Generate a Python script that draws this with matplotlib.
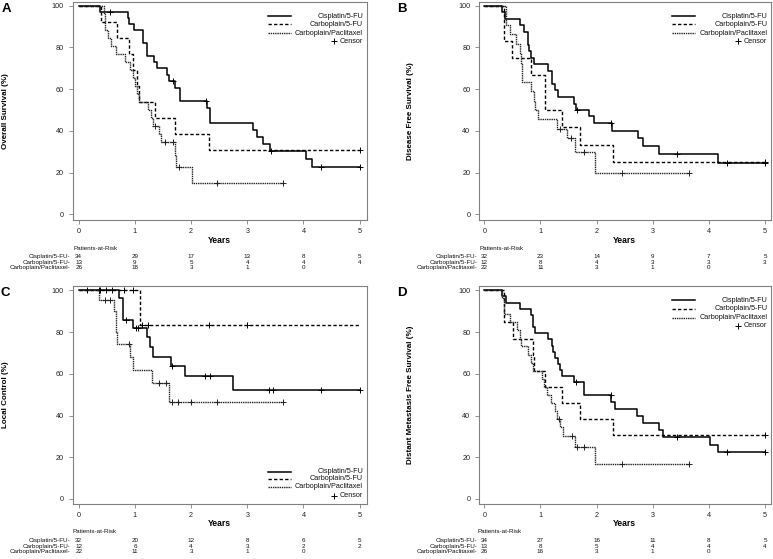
import matplotlib
matplotlib.use('Agg')
import matplotlib.pyplot as plt
import numpy as np
from matplotlib.transforms import blended_transform_factory

plt.rcParams['font.family'] = ['Liberation Sans', 'DejaVu Sans']

# ---------------- data ----------------
groups = ['Cisplatin/5-FU', 'Carboplain/5-FU', 'Carboplain/Paclitaxel']
risk_years = [0, 1, 2, 3, 4, 5]

# Panel A: Overall Survival
A_cis_t = [0, 0.37, 0.87, 0.90, 0.99, 1.15, 1.21, 1.34, 1.40, 1.57, 1.61, 1.71, 1.81, 2.28, 2.33, 3.11, 3.18, 3.28, 3.40, 4.04, 4.16]
A_cis_s = [100, 97.1, 94.1, 91.0, 88.2, 82.0, 76.0, 73.2, 70.0, 66.8, 63.9, 60.4, 54.3, 50.8, 44.0, 40.5, 37.2, 33.9, 30.5, 26.5, 22.8]
A_cis_c = [0.56, 1.67, 2.26, 3.43, 4.31, 5.0]
A_c5_t = [0, 0.40, 0.68, 0.90, 0.96, 1.04, 1.08, 1.36, 1.71, 2.31]
A_c5_s = [100, 92.3, 84.6, 76.9, 69.2, 61.5, 53.8, 46.2, 38.5, 30.8]
A_c5_c = [5.0]
A_cp_t = [0, 0.45, 0.47, 0.53, 0.57, 0.66, 0.82, 0.91, 0.97, 1.01, 1.04, 1.07, 1.24, 1.28, 1.32, 1.43, 1.47, 1.71, 1.74, 2.02]
A_cp_s = [100, 96.2, 88.5, 84.6, 80.8, 76.9, 73.1, 69.2, 65.4, 61.5, 57.7, 53.8, 50.0, 46.2, 42.3, 38.5, 34.6, 28.6, 22.5, 15.0]
A_cp_c = [1.35, 1.54, 1.67, 1.78, 2.46, 3.64]
A_risk = [[34, 29, 17, 13, 8, 5], [13, 9, 5, 4, 4, 4], [26, 18, 3, 1, 0]]

# Panel B: Disease Free Survival
B_cis_t = [0, 0.32, 0.37, 0.64, 0.71, 0.77, 0.80, 0.84, 0.89, 1.14, 1.20, 1.26, 1.32, 1.59, 1.63, 1.86, 1.96, 2.27, 2.74, 2.83, 3.12, 4.16]
B_cis_s = [100, 96.9, 93.8, 90.6, 87.5, 81.3, 78.1, 75.0, 71.9, 68.8, 62.5, 59.4, 56.3, 53.1, 50.0, 46.9, 43.8, 39.7, 36.4, 32.5, 28.9, 24.8]
B_cis_c = [1.65, 2.26, 3.44, 4.32, 5.0]
B_c5_t = [0, 0.36, 0.50, 0.84, 1.09, 1.38, 1.70, 2.29]
B_c5_s = [100, 83.3, 75.0, 66.7, 50.0, 41.7, 33.3, 25.0]
B_c5_c = [5.0]
B_cp_t = [0, 0.38, 0.46, 0.57, 0.64, 0.66, 0.68, 0.84, 0.88, 0.91, 0.96, 1.30, 1.47, 1.62, 1.98]
B_cp_s = [100, 90.9, 86.4, 81.8, 77.3, 72.7, 63.6, 59.1, 54.5, 50.0, 45.5, 40.9, 36.4, 29.8, 20.0]
B_cp_c = [1.34, 1.54, 1.78, 2.45, 3.64]
B_risk = [[32, 23, 14, 9, 7, 5], [12, 8, 4, 3, 3, 3], [22, 11, 3, 1, 0]]

# Panel C: Local Control
C_cis_t = [0, 0.72, 0.79, 0.96, 1.21, 1.27, 1.32, 1.64, 1.90, 2.74]
C_cis_s = [100, 96.2, 85.8, 81.8, 77.5, 72.8, 68.1, 63.5, 58.7, 52.1]
C_cis_c = [0.15, 0.36, 0.38, 0.49, 0.84, 1.02, 1.06, 1.66, 2.25, 2.33, 3.39, 3.45, 4.31, 5.0]
C_c5_t = [0, 1.09]
C_c5_s = [100, 83.3]
C_c5_c = [0.60, 0.80, 0.96, 1.13, 1.24, 2.31, 2.99]
C_cp_t = [0, 0.36, 0.63, 0.66, 0.68, 0.92, 0.97, 1.30, 1.61]
C_cp_s = [100, 95.5, 90.0, 80.0, 74.3, 68.1, 61.9, 55.7, 46.4]
C_cp_c = [0.47, 0.56, 0.90, 1.42, 1.55, 1.66, 1.77, 1.99, 2.46, 3.64]
C_risk = [[32, 20, 12, 8, 6, 5], [12, 6, 4, 3, 2, 2], [22, 11, 3, 1, 0]]

# Panel D: Distant Metastasis Free Survival
D_cis_t = [0, 0.32, 0.38, 0.64, 0.84, 0.87, 0.91, 1.14, 1.20, 1.23, 1.26, 1.31, 1.35, 1.38, 1.59, 1.78, 2.26, 2.33, 2.72, 2.83, 3.12, 3.18, 4.02, 4.16]
D_cis_s = [100, 97.1, 94.1, 91.2, 88.2, 82.4, 79.4, 76.5, 73.5, 70.6, 67.6, 64.7, 61.8, 58.8, 55.9, 49.8, 46.3, 43.0, 39.7, 36.4, 33.1, 29.8, 26.0, 22.3]
D_cis_c = [1.64, 2.25, 3.44, 4.32, 5.0]
D_c5_t = [0, 0.36, 0.52, 0.86, 0.89, 1.08, 1.38, 1.71, 2.29]
D_c5_s = [100, 84.6, 76.9, 69.2, 61.5, 53.8, 46.2, 38.5, 30.8]
D_c5_c = [5.0]
D_cp_t = [0, 0.31, 0.36, 0.46, 0.58, 0.64, 0.66, 0.78, 0.83, 0.87, 1.02, 1.06, 1.12, 1.18, 1.26, 1.30, 1.35, 1.41, 1.62, 1.98]
D_cp_s = [100, 96.2, 88.5, 84.6, 80.8, 76.9, 73.1, 69.2, 65.4, 61.5, 57.7, 53.8, 50.0, 46.2, 42.3, 38.5, 34.6, 30.0, 25.0, 16.7]
D_cp_c = [1.33, 1.56, 1.66, 1.78, 2.45, 3.64]
D_risk = [[34, 27, 16, 11, 8, 5], [13, 8, 5, 4, 4, 4], [26, 16, 3, 1, 0]]

panels = [
    dict(letter='A', ylabel='Overall Survival (%)',
         curves=[(A_cis_t, A_cis_s, A_cis_c, 5.0), (A_c5_t, A_c5_s, A_c5_c, 5.0), (A_cp_t, A_cp_s, A_cp_c, 3.64)],
         risk=A_risk),
    dict(letter='B', ylabel='Disease Free Survival (%)',
         curves=[(B_cis_t, B_cis_s, B_cis_c, 5.0), (B_c5_t, B_c5_s, B_c5_c, 5.0), (B_cp_t, B_cp_s, B_cp_c, 3.64)],
         risk=B_risk),
    dict(letter='C', ylabel='Local Control (%)',
         curves=[(C_cis_t, C_cis_s, C_cis_c, 5.0), (C_c5_t, C_c5_s, C_c5_c, 5.0), (C_cp_t, C_cp_s, C_cp_c, 3.64)],
         risk=C_risk),
    dict(letter='D', ylabel='Distant Metastasis Free Survival (%)',
         curves=[(D_cis_t, D_cis_s, D_cis_c, 5.0), (D_c5_t, D_c5_s, D_c5_c, 5.0), (D_cp_t, D_cp_s, D_cp_c, 3.64)],
         risk=D_risk),
]

# ---------------- layout (pixels) ----------------
W, H = 773, 559
layout = [
    dict(rect=(72.7, 1.7, 366.7, 220.0), xlim=(-0.107, 5.125), ylim=(-2.73, 101.9),
         letter_xy=(6.5, 8.5), ylab_x=5.5, leg='top',
         years_y=240.5, par_y=248.5, rows_y=(256.5, 262.1, 267.7), lab_x=70.7, par_x=73.0),
    dict(rect=(479.0, 1.7, 771.0, 220.0), xlim=(-0.094, 5.107), ylim=(-2.73, 101.9),
         letter_xy=(401.7, 8.5), ylab_x=410.5, leg='top',
         years_y=240.5, par_y=248.5, rows_y=(256.5, 262.1, 267.7), lab_x=477.7, par_x=480.0),
    dict(rect=(72.7, 286.0, 366.7, 504.3), xlim=(-0.107, 5.125), ylim=(-2.54, 102.06),
         letter_xy=(5.0, 292.5), ylab_x=5.5, leg='bottom',
         years_y=523.5, par_y=531.5, rows_y=(540.5, 546.1, 551.7), lab_x=70.7, par_x=72.7),
    dict(rect=(479.0, 286.0, 771.0, 504.3), xlim=(-0.094, 5.107), ylim=(-2.54, 102.06),
         letter_xy=(401.7, 293.0), ylab_x=410.5, leg='top',
         years_y=523.5, par_y=531.5, rows_y=(540.5, 546.1, 551.7), lab_x=477.7, par_x=478.0),
]

styles = [
    dict(color='black', lw=1.1, ls='-'),
    dict(color='black', lw=1.0, ls=(0, (2.4, 1.6))),
    dict(color='#222222', lw=1.0, ls=(0, (1.0, 0.6))),
]

RISK_FS = 4.5

fig = plt.figure(figsize=(W / 100, H / 100), dpi=100)

def fx(px):
    return px / W

def fy(py):
    return 1 - py / H

for p, L in zip(panels, layout):
    x0, y0, x1, y1 = L['rect']
    ax = fig.add_axes([fx(x0), fy(y1), (x1 - x0) / W, (y1 - y0) / H])
    ax.set_xlim(*L['xlim'])
    ax.set_ylim(*L['ylim'])
    for sp in ax.spines.values():
        sp.set_color('#808080')
        sp.set_linewidth(0.8)
    ax.set_xticks(risk_years)
    ax.set_yticks([0, 20, 40, 60, 80, 100])
    ax.tick_params(axis='both', direction='out', length=3, width=0.6, color='#808080',
                   labelsize=5.2, labelcolor='#222222')
    ax.tick_params(axis='x', pad=2.5)
    ax.tick_params(axis='y', pad=3.3)

    for (t, s, cens, tend), st in zip(p['curves'], styles):
        tt = list(t) + [tend]
        ss = list(s) + [s[-1]]
        ax.step(tt, ss, where='post', color=st['color'], lw=st['lw'], ls=st['ls'])
        ta = np.array(t)
        sa = np.array(s)
        cy = [sa[np.searchsorted(ta, c, side='right') - 1] for c in cens]
        ax.plot(cens, cy, ls='none', marker='+', ms=4, mew=0.7, color=st['color'])

    # legend (manual, right-aligned text like the original)
    aw, ah = x1 - x0, y1 - y0
    if L['leg'] == 'top':
        rows = [14.3, 22.6, 31.6, 39.6]
        ys = [1 - r / ah for r in rows]
    else:
        rows = [32.6, 25.3, 17.3, 8.6]
        ys = [r / ah for r in rows]
    lx0 = 1 - 99.0 / aw
    lx1 = 1 - 76.0 / aw
    tx = 1 - 3.8 / aw
    for yy, g, st in zip(ys[:3], groups, styles):
        ax.plot([lx0, lx1], [yy, yy], transform=ax.transAxes, color=st['color'],
                lw=st['lw'], ls=st['ls'], clip_on=False)
        ax.text(tx, yy, g, transform=ax.transAxes, ha='right', va='center',
                fontsize=5.2, color='#111111')
    ax.text(tx, ys[3], 'Censor', transform=ax.transAxes, ha='right', va='center',
            fontsize=5.2, color='#111111')
    ax.plot([1 - 33.0 / aw], [ys[3]], transform=ax.transAxes, marker='+', ms=5,
            mew=0.7, color='black', clip_on=False)

    # titles / labels
    fig.text(fx(L['letter_xy'][0]), fy(L['letter_xy'][1]), p['letter'], ha='center',
             va='center', fontsize=9.5, fontweight='bold')
    fig.text(fx(L['ylab_x']), fy((y0 + y1) / 2), p['ylabel'], rotation=90, ha='center',
             va='center', fontsize=5.8, fontweight='bold')

    # risk table
    bt = blended_transform_factory(ax.transData, fig.transFigure)
    ax.text(2.5, fy(L['years_y']), 'Years', transform=bt, ha='center', va='center',
            fontsize=6.2, fontweight='bold')
    fig.text(fx(L['par_x']), fy(L['par_y']), 'Patients-at-Risk', ha='left', va='center',
             fontsize=RISK_FS, color='#111111')
    for g, ry, nums in zip(groups, L['rows_y'], p['risk']):
        fig.text(fx(L['lab_x']), fy(ry), g + '-', ha='right', va='center', fontsize=RISK_FS,
                 color='#111111')
        for yr, n in zip(risk_years, nums):
            ax.text(yr, fy(ry), str(n), transform=bt, ha='center', va='center',
                    fontsize=RISK_FS, color='#111111')

fig.savefig('out.png', dpi=100)
